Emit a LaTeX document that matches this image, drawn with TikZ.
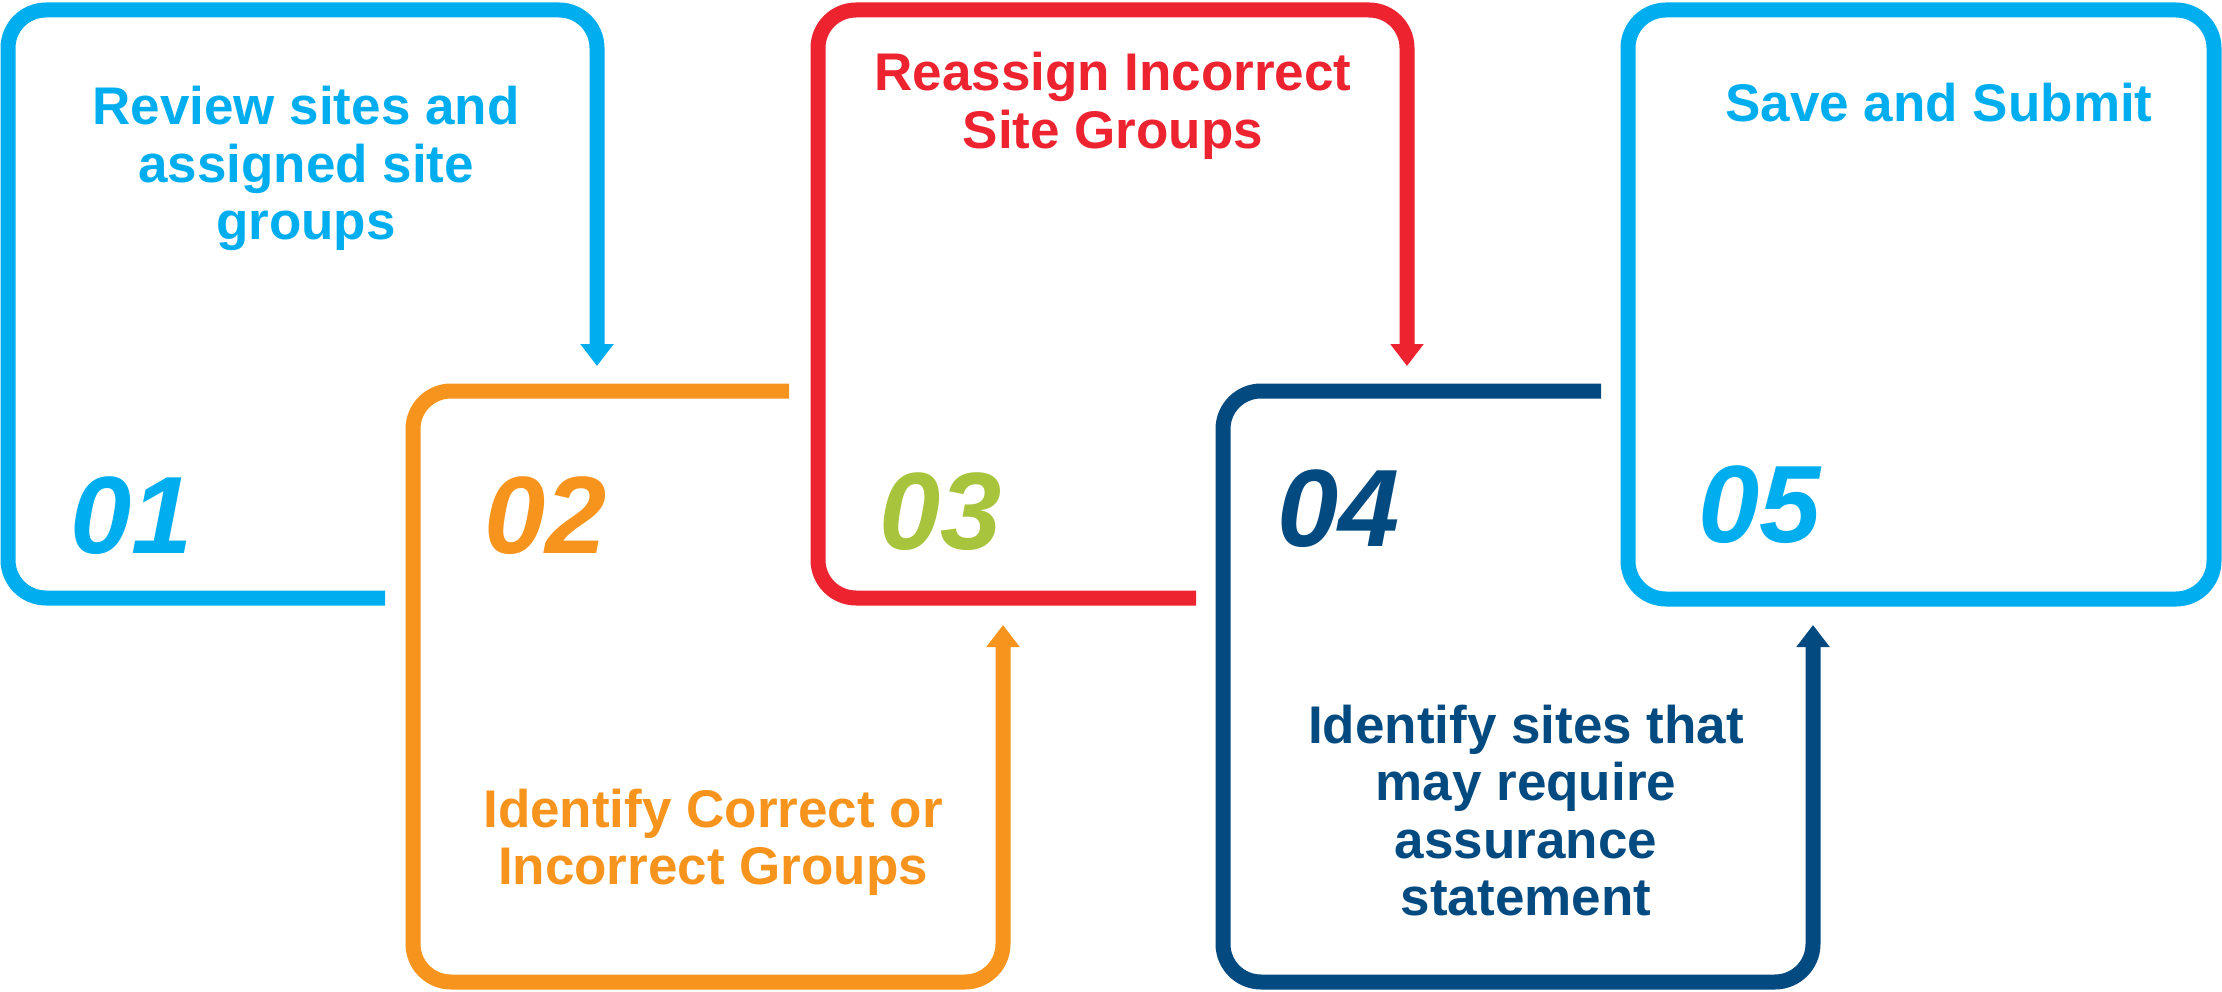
\documentclass[tikz,border=0pt]{standalone}
\usepackage{fontspec}
\setmainfont{Liberation Sans}
\usetikzlibrary{arrows.meta}
\definecolor{cblue}{HTML}{00AEEF}
\definecolor{corange}{HTML}{F7941E}
\definecolor{cred}{HTML}{ED2330}
\definecolor{cgreen}{HTML}{A8C43C}
\definecolor{cdark}{HTML}{034A80}
\tikzset{
  frame/.style={line width=15pt, rounded corners=38pt},
  flowtip/.style={-{Triangle[width=32pt,length=22pt]}},
  label/.style={inner sep=0pt, anchor=base, font=\bfseries\fontsize{53}{57.5}\selectfont},
  num/.style={inner sep=0pt, anchor=base west, font=\bfseries\itshape\fontsize{110}{120}\selectfont},
}
\begin{document}
\begin{tikzpicture}[x=1pt,y=-1pt]
\useasboundingbox (0,0) rectangle (2222,992);
\fill[white] (0,0) rectangle (2222,992);
% box 1
\coordinate (b1s) at (385,598);
\coordinate (b1e) at (597,366);
\draw[frame, flowtip, cblue] (b1s) -- (8,598) -- (8,10) -- (597,10) -- (b1e);
% box 2
\coordinate (b2s) at (789,391);
\coordinate (b2e) at (1003,625);
\draw[frame, flowtip, corange] (b2s) -- (413,391) -- (413,982) -- (1003,982) -- (b2e);
% box 3
\coordinate (b3s) at (1196,598);
\coordinate (b3e) at (1407,366);
\draw[frame, flowtip, cred] (b3s) -- (818,598) -- (818,10) -- (1407,10) -- (b3e);
% box 4
\coordinate (b4s) at (1601,391);
\coordinate (b4e) at (1813,625);
\draw[frame, flowtip, cdark] (b4s) -- (1223,391) -- (1223,982) -- (1813,982) -- (b4e);
% box 5
\draw[frame, cblue] (1628,10) rectangle (2214,599);

% texts
\node[label, text=cblue] (t1a) at (306,125) {Review sites and};
\node[label, text=cblue] (t1b) at (306,183) {assigned site};
\node[label, text=cblue] (t1c) at (306,240) {groups};

\node[label, text=corange] (t2a) at (713,827) {Identify Correct or};
\node[label, text=corange] (t2b) at (713,884) {Incorrect Groups};

\node[label, text=cred] (t3a) at (1113,91) {Reassign Incorrect};
\node[label, text=cred] (t3b) at (1113,149) {Site Groups};

\node[label, text=cdark] (t4a) at (1526,743) {Identify sites that};
\node[label, text=cdark] (t4b) at (1526,800) {may require};
\node[label, text=cdark] (t4c) at (1526,858) {assurance};
\node[label, text=cdark] (t4d) at (1526,915) {statement};

\node[label, text=cblue] (t5a) at (1939,122) {Save and Submit};

% numbers
\node[num, text=cblue] (n1) at (70,553) {01};
\node[num, text=corange] (n2) at (484,553) {02};
\node[num, text=cgreen] (n3) at (879,549) {03};
\node[num, text=cdark] (n4) at (1277,546) {04};
\node[num, text=cblue] (n5) at (1698,542) {05};
\end{tikzpicture}
\end{document}
